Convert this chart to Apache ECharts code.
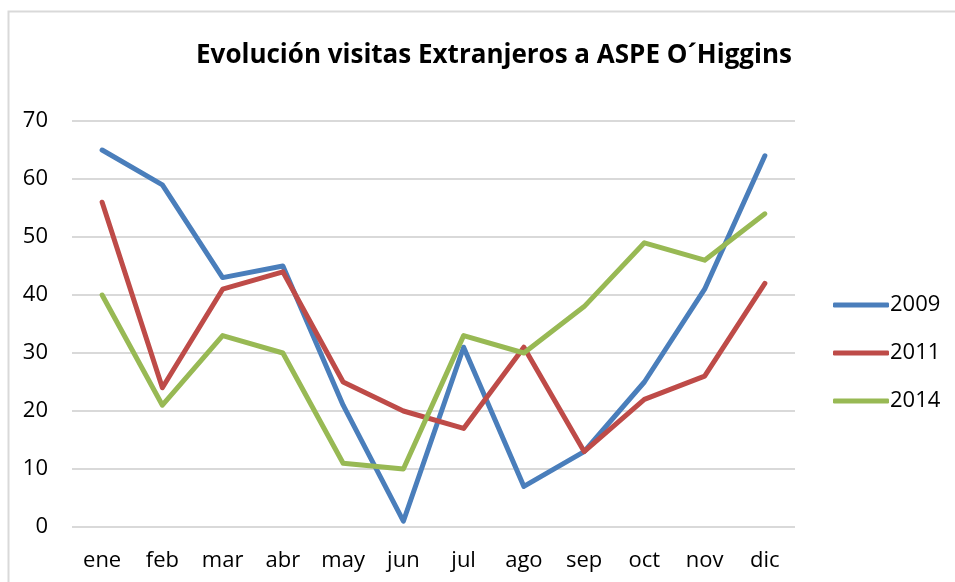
<!DOCTYPE html>
<html><head><meta charset="utf-8">
<script src="https://cdn.jsdelivr.net/npm/echarts@6/dist/echarts.min.js"></script>
<style>html,body{margin:0;padding:0;background:#fff}#c{width:955px;height:582px}</style>
</head><body><div id="c"></div>
<script>
const categories = ['ene','feb','mar','abr','may','jun','jul','ago','sep','oct','nov','dic'];
const s2009 = [65,59,43,45,21,1,31,7,13,25,41,64];
const s2011 = [56,24,41,44,25,20,17,31,13,22,26,42];
const s2014 = [40,21,33,30,11,10,33,30,38,49,46,54];
const yTicks = [0,10,20,30,40,50,60,70];
const F = 'Open Sans';
const chart = echarts.init(document.getElementById('c'));
const mk = (name, data, color) => ({name, type:'line', data, symbol:'none', lineStyle:{width:5, color, cap:'round', join:'round'}, itemStyle:{color}});
chart.setOption({
  animation:false,
  graphic:[{type:'rect', shape:{x:8.5,y:11.5,width:960,height:600}, style:{fill:'none', stroke:'#d9d9d9', lineWidth:2}}],
  title:{text:'Evolución visitas Extranjeros a ASPE O´Higgins', left:489, top:38, textAlign:'center',
    textStyle:{fontFamily:F, fontWeight:'bold', fontSize:26, color:'#000'}},
  grid:{left:72, right:160, top:121, bottom:55, containLabel:false},
  legend:{orient:'vertical', left:828, top:289, itemGap:26, itemWidth:56, itemHeight:5,
    icon:'roundRect', textStyle:{fontFamily:F, fontSize:22, color:'#000', padding:[0,0,0,-4]}},
  xAxis:{type:'category', data:categories, boundaryGap:true,
    axisLine:{show:false}, axisTick:{show:false},
    axisLabel:{fontFamily:F, fontSize:22, color:'#000', margin:23}},
  yAxis:{type:'value', min:0, max:70, interval:10,
    axisLine:{show:false}, axisTick:{show:false},
    axisLabel:{fontFamily:F, fontSize:22, color:'#000', margin:24, formatter:v=>yTicks.includes(v)?String(v):''},
    splitLine:{lineStyle:{color:'#d9d9d9', width:2}}},
  series:[mk('2009', s2009, '#4a7ebb'), mk('2011', s2011, '#be4b48'), mk('2014', s2014, '#98b954')]
});
</script></body></html>
